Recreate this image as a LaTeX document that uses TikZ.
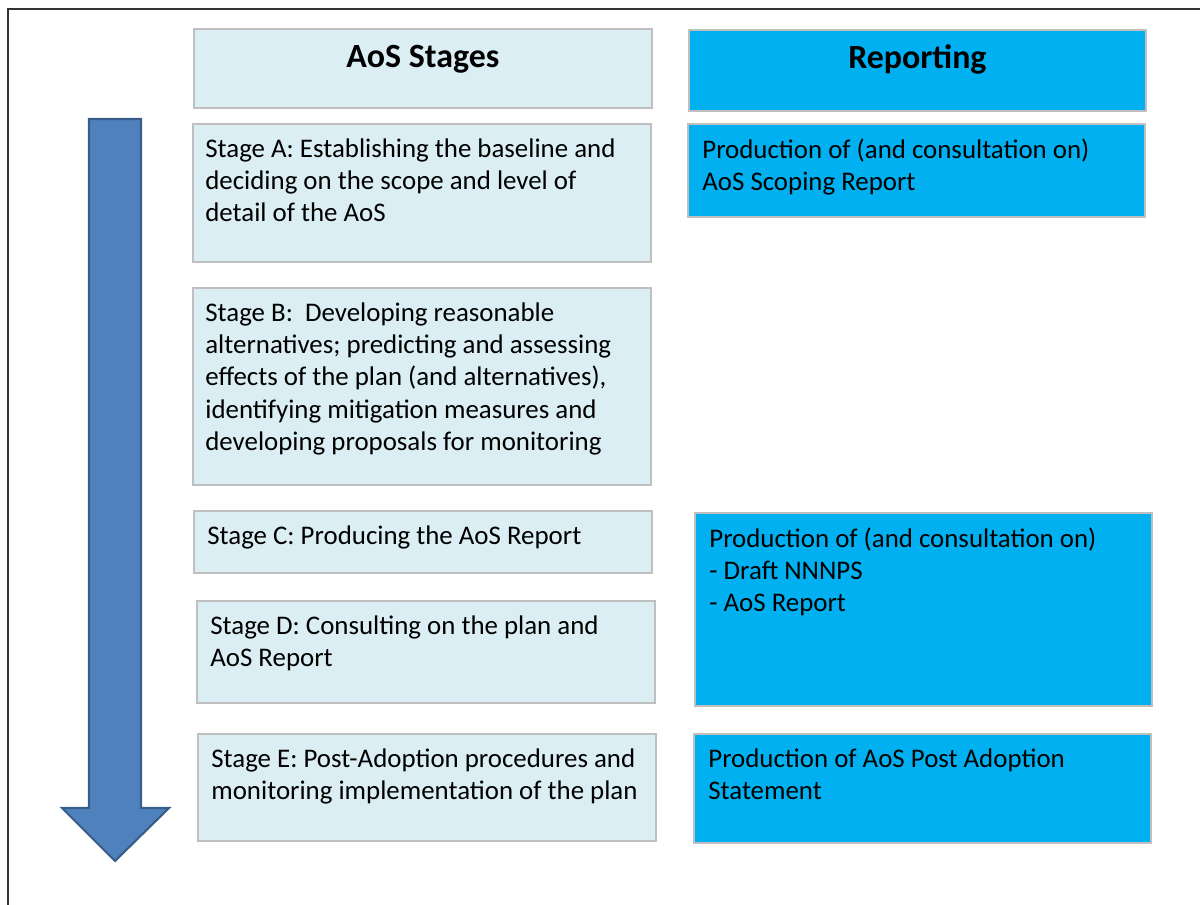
\documentclass[tikz,border=0pt]{standalone}
\usepackage{fontspec}
\setmainfont{Carlito}
\definecolor{stagefill}{HTML}{DAEEF3}
\definecolor{reportfill}{HTML}{00B0F0}
\definecolor{boxgray}{HTML}{BFBFBF}
\definecolor{arrowfill}{HTML}{4F81BD}
\definecolor{arrowdraw}{HTML}{385D8A}
\tikzset{
  px/.style={x=0.02cm, y=-0.02cm},
  card/.style 2 args={draw=boxgray, line width=1pt, inner sep=0pt, anchor=north west,
                minimum width=#1*0.02cm, minimum height=#2*0.02cm},
  stagebox/.style 2 args={card={#1}{#2}, fill=stagefill},
  reportbox/.style 2 args={card={#1}{#2}, fill=reportfill},
  boxtext/.style={anchor=north west, align=left, inner sep=0pt,
                font=\fontsize{15.3}{18.4}\selectfont},
  headtext/.style={anchor=base, inner sep=0pt, font=\fontsize{19.3}{23}\selectfont\bfseries},
}

\begin{document}
\begin{tikzpicture}[px]
  \useasboundingbox (0,0) rectangle (1200,905);
  % outer frame, only left and top edges visible
  \draw[line width=1.2pt, black!80] (8,905) -- (8,9) -- (1200,9);
  % timeline arrow
  \draw[fill=arrowfill, draw=arrowdraw, line width=1.2pt]
    (89,119) -- (141,119) -- (141,808) -- (169,808) -- (115,861)
    -- (62,808) -- (89,808) -- cycle;
  % column headings
  \node[stagebox={458}{79}] (hS) at (193,28) {};
  \node[headtext] at ([yshift=-40*0.02cm]hS.north) {AoS Stages};
  \node[reportbox={457}{81}] (hR) at (688,29) {};
  \node[headtext] at ([yshift=-40*0.02cm]hR.north) {Reporting};
  % stages
  \node[stagebox={458}{138}] (sA) at (192,123) {};
  \node[boxtext] at ([shift={(13,15)}]sA.north west)
    {Stage A: Establishing the baseline and\\deciding on the scope and level of\\detail of the AoS};
  \node[stagebox={458}{197}] (sB) at (192,287) {};
  \node[boxtext] at ([shift={(13,15)}]sB.north west)
    {Stage B:\ \ Developing reasonable\\alternatives; predicting and assessing\\effects of the plan (and alternatives),\\identifying mitigation measures and\\developing proposals for monitoring};
  \node[stagebox={458}{62}] (sC) at (193,510) {};
  \node[boxtext] at ([shift={(14,15)}]sC.north west)
    {Stage C: Producing the AoS Report};
  \node[stagebox={458}{102}] (sD) at (196,600) {};
  \node[boxtext] at ([shift={(14,15)}]sD.north west)
    {Stage D: Consulting on the plan and\\AoS Report};
  \node[stagebox={458}{107}] (sE) at (197,733) {};
  \node[boxtext] at ([shift={(14,15)}]sE.north west)
    {Stage E: Post-Adoption procedures and\\monitoring implementation of the plan};
  % reporting
  \node[reportbox={457}{93}] (rA) at (687,123) {};
  \node[boxtext] at ([shift={(15,15)}]rA.north west)
    {Production of (and consultation on)\\AoS Scoping Report};
  \node[reportbox={457}{193}] (rC) at (694,512) {};
  \node[boxtext] at ([shift={(15,15)}]rC.north west)
    {Production of (and consultation on)\\- Draft NNNPS\\- AoS Report};
  \node[reportbox={457}{109}] (rE) at (693,733) {};
  \node[boxtext] at ([shift={(15,15)}]rE.north west)
    {Production of AoS Post Adoption\\Statement};
\end{tikzpicture}
\end{document}
